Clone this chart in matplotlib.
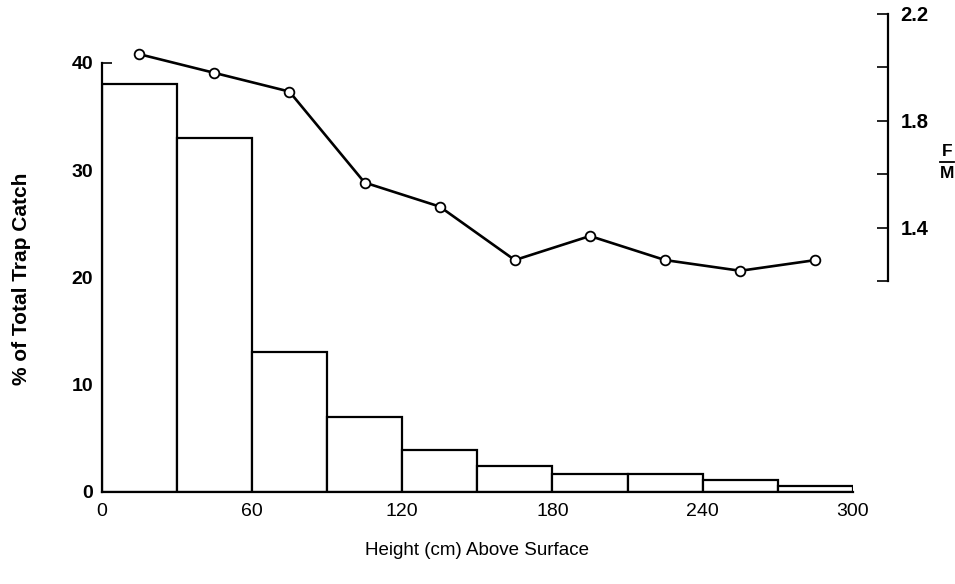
import numpy as np
import matplotlib
matplotlib.use('Agg')
import matplotlib.pyplot as plt
from matplotlib.lines import Line2D

# bin edges of the traps (cm) and % of catch per bin
bin_left = [0, 30, 60, 90, 120, 150, 180, 210, 240, 270]
bin_width = 30
catch_pct = [38, 33, 13, 7, 3.9, 2.4, 1.7, 1.7, 1.1, 0.5]

# female / male ratio at the middle of each bin
bin_mid = [15, 45, 75, 105, 135, 165, 195, 225, 255, 285]
fm_ratio = [2.05, 1.98, 1.91, 1.57, 1.48, 1.28, 1.37, 1.28, 1.24, 1.28]

x_ticks = [0, 60, 120, 180, 240, 300]
left_ticks = [0, 10, 20, 30, 40]
right_ticks = [1.2, 1.4, 1.6, 1.8, 2.0, 2.2]
right_labels = ['', '1.4', '', '1.8', '', '2.2']

plt.rcParams['font.family'] = ['Liberation Sans', 'DejaVu Sans']

fig = plt.figure(figsize=(9.55, 5.84), dpi=100)
ax = fig.add_axes([0.1063, 0.158, 0.7869, 0.8249])

ax.bar(bin_left, catch_pct, width=bin_width, align='edge',
       facecolor='white', edgecolor='black', linewidth=1.6, zorder=2)
ax.set_xlim(0, 300)
ax.set_ylim(0, 44.93)

for s in ['top', 'right']:
    ax.spines[s].set_visible(False)
ax.spines['left'].set_bounds(0, 40)
ax.spines['bottom'].set_bounds(0, 300)
ax.spines['left'].set_linewidth(1.6)
ax.spines['bottom'].set_linewidth(1.6)

ax.set_yticks(left_ticks)
ax.set_yticks(np.arange(5, 40, 10), minor=True)
ax.tick_params(axis='y', which='both', direction='in', length=7, width=1.2, pad=6)
ax.set_yticklabels([str(t) for t in left_ticks], fontsize=14, fontweight='bold')
ax.set_xticks(x_ticks)
ax.tick_params(axis='x', length=0, pad=8)
ax.set_xticklabels([str(t) for t in x_ticks], fontsize=14)

fig.text(0.023, 0.522, '% of Total Trap Catch', rotation=90, ha='center', va='center',
         fontsize=15, fontweight='bold')
fig.text(0.4995, 0.058, 'Height (cm) Above Surface', ha='center', va='center',
         fontsize=13.5)

ax2 = ax.twinx()
ax2.plot(bin_mid, fm_ratio, color='black', linewidth=1.9, marker='o',
         markersize=7, markerfacecolor='white', markeredgecolor='black',
         markeredgewidth=1.3, zorder=3)
ax2.set_ylim(0.414, 2.215)
for s in ['top', 'left', 'bottom']:
    ax2.spines[s].set_visible(False)
ax2.spines['right'].set_position(('axes', 1.0466))
ax2.spines['right'].set_bounds(1.2, 2.2)
ax2.spines['right'].set_linewidth(1.6)
ax2.set_yticks(right_ticks)
ax2.set_yticklabels(right_labels, fontsize=14.5, fontweight='bold')
ax2.tick_params(axis='y', direction='in', length=8, width=1.2, pad=9)

# F over M ratio label
fig.text(0.9916, 0.741, 'F', ha='center', va='center', fontsize=12.5, fontweight='bold')
fig.text(0.9916, 0.703, 'M', ha='center', va='center', fontsize=12.5, fontweight='bold')
fig.add_artist(Line2D([0.984, 0.999], [0.7225, 0.7225], color='black', linewidth=1.3))

fig.savefig('out.png', dpi=100)
